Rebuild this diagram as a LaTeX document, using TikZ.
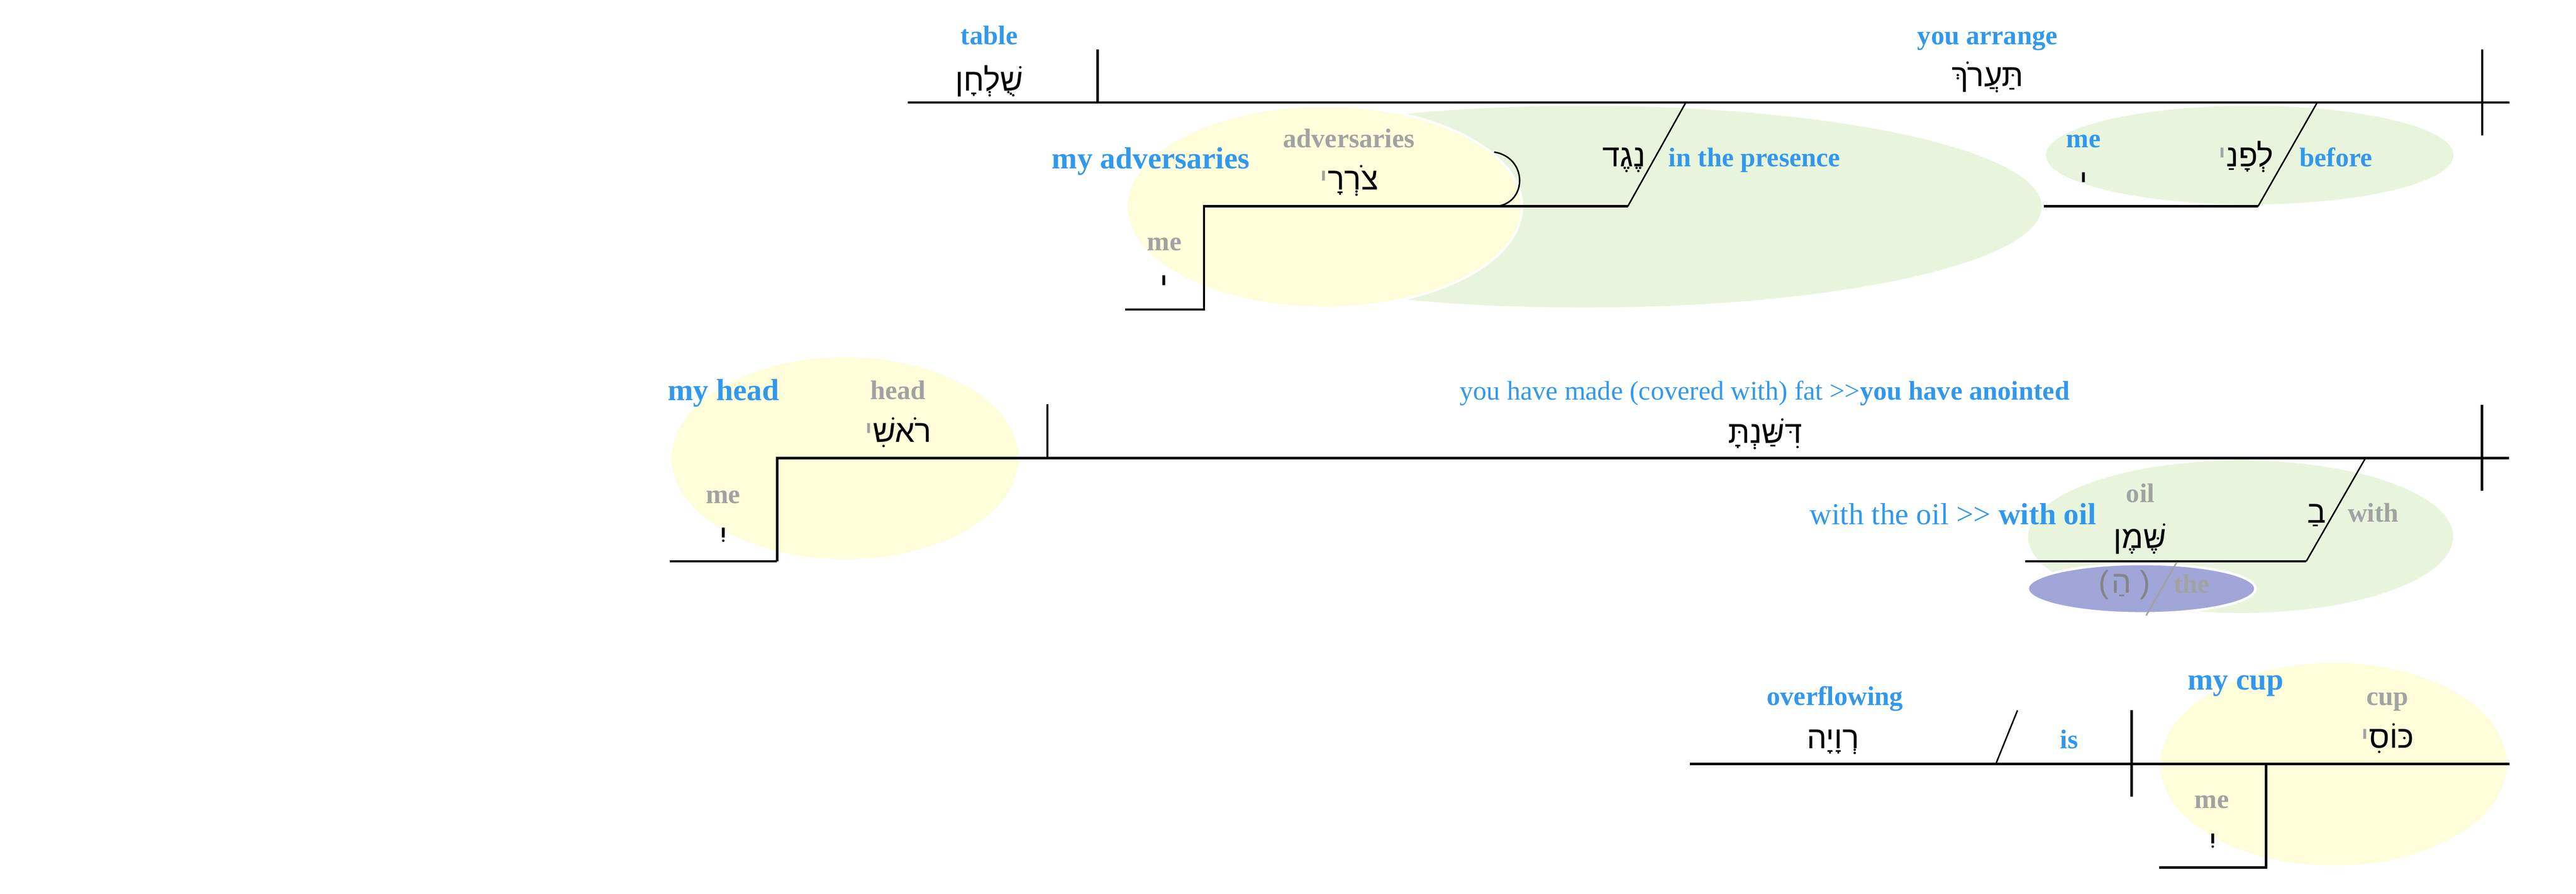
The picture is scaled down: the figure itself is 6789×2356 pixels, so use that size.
\documentclass[tikz,border=0pt]{standalone}
\usepackage{fontspec}
\setmainfont{Liberation Serif}
\newfontfamily\hebfont[Script=Hebrew]{Liberation Sans}
\newfontfamily\parfont{Liberation Sans}
\TeXXeTstate=1
\definecolor{bleu}{RGB}{50,152,236}
\definecolor{gris}{RGB}{162,162,162}
\definecolor{grisfonce}{RGB}{132,132,132}
\definecolor{jaune}{RGB}{255,253,218}
\definecolor{vert}{RGB}{232,245,220}
\definecolor{mauve}{RGB}{161,166,216}
\newcommand{\heb}[1]{\beginR #1\endR}
\newcommand{\suff}[2]{\textcolor{gris}{#2}#1}
\newcommand{\taille}{\fontsize{20.2}{24}\selectfont}
\newcommand{\grand}{\fontsize{22.9}{27}\selectfont}
\tikzset{
  glose/.style={anchor=base, inner sep=0pt, text=bleu, font=\taille\bfseries},
  grise/.style={glose, text=gris},
  forte/.style={glose, font=\grand\bfseries},
  mot/.style={anchor=base, inner sep=0pt, font=\hebfont\fontsize{23.5}{28}\selectfont},
  ligne/.style={line width=1.7pt},
  trait/.style={line width=1.1pt},
  bulle/.style 2 args={fill=#1, draw=white, line width=#2}
}

\begin{document}
\begin{tikzpicture}[x=0.01cm, y=-0.01cm]
  \useasboundingbox (0,0) rectangle (6789,2356);
  % bulles
  \fill[vert] (4175,545) ellipse [x radius=1206, y radius=266];
  \filldraw[bulle={jaune}{1.8pt}] (3490,545) ellipse [x radius=521, y radius=266];
  \fill[vert] (5929,409) ellipse [x radius=537, y radius=130];
  \fill[jaune] (2227,1208) ellipse [x radius=457, y radius=266];
  \fill[vert] (5905,1415) ellipse [x radius=560, y radius=201];
  \filldraw[bulle={mauve}{1.8pt}] (5644,1552) ellipse [x radius=300, y radius=65];
  \fill[jaune] (6150,2015) ellipse [x radius=456, y radius=267];

  % premiere ligne
  \draw[ligne] (2392,270) -- (6614,270);
  \draw[ligne] (2893,130) -- (2893,270) (6542,130) -- (6542,357);
  \draw[trait] (4443,270) -- (4290,544);
  \draw[ligne] (4290,544) -- (3173,544) -- (3173,816) -- (2966,816);
  \draw[trait] (3938,401) .. controls (4026,415) and (4026,534) .. (3945,544);
  \draw[trait] (6107,270) -- (5951,544);
  \draw[ligne] (5951,544) -- (5387,544);
  \node[glose] (table) at (2607,117) {table};
  \node[mot] (shulchan) at (2607,239) {\heb{שֻׁלְחָן}};
  \node[glose] (arrange) at (5238,117) {you arrange};
  \node[mot] (taarokh) at (5238,228) {\heb{תַּעֲרֹךְ}};
  \node[mot] (lefanay) at (5919,439) {\suff{לְפָנַ}{י}};
  \node[glose, anchor=base west] (before) at (6060,439) {before};
  \node[glose] (moiA) at (5491,389) {me};
  \node[mot] (yodA) at (5491,505) {\heb{י}};
  \node[mot] (neged) at (4280,439) {\heb{נֶגֶד}};
  \node[glose, anchor=base west] (presence) at (4397,439) {in the presence};
  \node[forte] (myadv) at (3033,445) {my adversaries};
  \node[grise] (adv) at (3555,389) {adversaries};
  \node[mot] (tsorray) at (3555,501) {\suff{צֹרְרָ}{י}};
  \node[grise] (moiB) at (3069,661) {me};
  \node[mot] (yodB) at (3068,776) {\heb{י}};

  % deuxieme ligne
  \draw[ligne] (2048,1480) -- (2048,1208) -- (6612,1208);
  \draw[ligne] (2048,1480) -- (1765,1480);
  \draw[ligne] (2760,1066) -- (2760,1208) (6541,1067) -- (6541,1294);
  \draw[trait] (6234,1208) -- (6078,1480);
  \draw[ligne] (6078,1480) -- (5338,1480);
  \draw[trait, gris] (5737,1482) -- (5656,1623);
  \node[forte] (mytete) at (1907,1055) {my head};
  \node[grise] (tete) at (2367,1053) {head};
  \node[mot] (rosh) at (2367,1165) {\suff{רֹאשִׁ}{י}};
  \node[grise] (moiC) at (1906,1327) {me};
  \node[mot] (yodC) at (1907,1441) {\heb{יִ}};
  \node[glose] (oint) at (4651,1054) {\mdseries you have made (covered with) fat >\kern0pt>\bfseries you have anointed};
  \node[mot] (dishanta) at (4652,1169) {\heb{דִּשַּׁנְתָּ}};
  \node[grise] (huile) at (5641,1325) {oil};
  \node[mot] (shemen) at (5640,1445) {\heb{שֶּׁמֶן}};
  \node[forte, anchor=base east] (avechuile) at (5525,1383) {{\mdseries with the oil >\kern0pt> }with oil};
  \node[mot] (ba) at (6105,1379) {\heb{בַ}};
  \node[grise, anchor=base west] (avec) at (6187,1376) {with};
  \node[mot, text=grisfonce] (ha) at (5599,1563) {{\parfont(}\hspace{0.06cm}הַ\hspace{0.22cm}{\parfont)}};
  \node[grise, anchor=base west] (le) at (5728,1563) {the};

  % troisieme ligne
  \draw[ligne] (4453,2014) -- (6614,2014);
  \draw[trait] (5260,2014) -- (5317,1873);
  \draw[ligne] (5618,1873) -- (5618,2100);
  \draw[ligne] (5972,2014) -- (5972,2287) -- (5690,2287);
  \node[forte] (mycoupe) at (5892,1819) {my cup};
  \node[grise] (coupe) at (6292,1860) {cup};
  \node[mot] (kosi) at (6292,1972) {\suff{כּוֹסִ}{י}};
  \node[glose] (est) at (5453,1973) {is};
  \node[glose] (deborde) at (4836,1860) {overflowing};
  \node[mot] (revaya) at (4831,1973) {\heb{רְוָיָה}};
  \node[grise] (moiD) at (5829,2131) {me};
  \node[mot] (yodD) at (5832,2248) {\heb{יִ}};
\end{tikzpicture}
\end{document}
